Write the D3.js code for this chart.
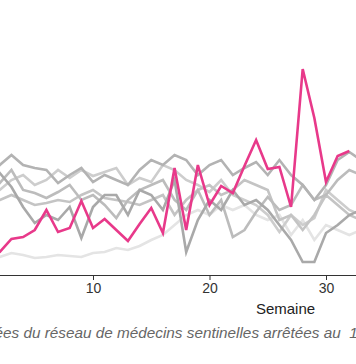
<!DOCTYPE html>
<html>
<head>
<meta charset="utf-8">
<script src="https://cdn.jsdelivr.net/npm/d3@7"></script>
<style>
  html, body { margin: 0; padding: 0; background: #fff; overflow: hidden; }
  svg { display: block; }
</style>
</head>
<body>
<svg id="chart" width="356" height="364"></svg>
<script>
// Weeks (semaine)
const weeksPast = d3.range(1, 34);
const weeksCurrent = d3.range(1, 33);

// Previous seasons (gray)
const season1 = [95,110,120,110,107,105,92,100,107,93,100,95,90,105,115,110,120,115,100,110,115,100,107,113,100,115,100,90,75,90,115,123,115];
const season2 = [115,102,88,68,52,60,55,68,37,68,80,80,60,85,80,65,95,23,55,75,65,85,70,75,65,50,35,13,13,42,50,60,65];
const season3 = [100,92,105,85,82,77,83,90,75,80,70,57,75,85,90,95,75,65,85,60,75,38,45,63,78,65,70,90,75,80,95,105,100];
const season4 = [70,75,80,75,70,72,75,73,80,85,77,75,73,70,75,80,60,75,85,90,80,85,95,90,85,55,60,45,60,80,70,60,55];
const season5 = [80,85,95,100,90,95,105,97,105,99,103,107,90,97,93,110,105,95,90,83,95,80,75,70,60,43,60,50,57,85,75,65,60];
const season6 = [17,18,22,20,17,18,20,19,18,22,23,27,25,29,35,40,50,60,65,60,70,65,70,60,55,60,40,55,35,50,45,40,45];

// Current season (pink)
const current = [17,23,36,38,45,65,43,47,74,47,56,45,34,51,67,42,107,45,110,70,89,82,109,135,106,108,68,206,157,93,119,124];

const pastSeries = [season6, season5, season4, season3, season1, season2];
const pastColors = ["#e4e4e4", "#cdcdcd", "#c4c4c4", "#bcbcbc", "#b3b3b3", "#a9a9a9"];

const xTicks = [10, 20, 30];
const xLabel = "Semaine";
const caption = "Données du réseau de médecins sentinelles arrêtées au\u00a0\u00a01er";

const svg = d3.select("#chart");

const x = d3.scaleLinear().domain([10, 20]).range([93, 209.5]);
const y = d3.scaleLinear().domain([0, 220]).range([275, 55]);

const line = d3.line().x(d => x(d[0])).y(d => y(d[1]));

pastSeries.forEach((s, i) => {
  svg.append("path")
    .datum(weeksPast.map((w, j) => [w, s[j]]))
    .attr("fill", "none")
    .attr("stroke", pastColors[i])
    .attr("stroke-width", 2.6)
    .attr("stroke-linejoin", "miter")
    .attr("d", line);
});

svg.append("path")
  .datum(weeksCurrent.map((w, j) => [w, current[j]]))
  .attr("fill", "none")
  .attr("stroke", "#e8398a")
  .attr("stroke-width", 2.6)
  .attr("d", line);

// x axis
const axis = d3.axisBottom(x).tickValues(xTicks).tickSize(5).tickSizeOuter(0).tickPadding(3);
const gx = svg.append("g").attr("transform", "translate(0,275)").call(axis);
gx.select(".domain").remove();
gx.append("line").attr("x1", 0).attr("x2", 356).attr("y1", 0.5).attr("y2", 0.5)
  .attr("stroke", "#333").attr("stroke-width", 1);
gx.selectAll(".tick line").attr("stroke", "#333");
gx.selectAll(".tick text")
  .attr("fill", "#333")
  .style("font-family", "'Liberation Sans', Arial, sans-serif")
  .style("font-size", "14px");

svg.append("text")
  .attr("x", 285.5).attr("y", 314)
  .attr("text-anchor", "middle")
  .style("font-family", "'Liberation Sans', Arial, sans-serif")
  .style("font-size", "15px")
  .attr("fill", "#222")
  .text(xLabel);

svg.append("text")
  .attr("x", -42).attr("y", 338)
  .style("font-family", "'Liberation Sans', Arial, sans-serif")
  .style("font-size", "15.3px")
  .style("font-style", "italic")
  .attr("fill", "#666")
  .text(caption);
</script>
</body>
</html>
